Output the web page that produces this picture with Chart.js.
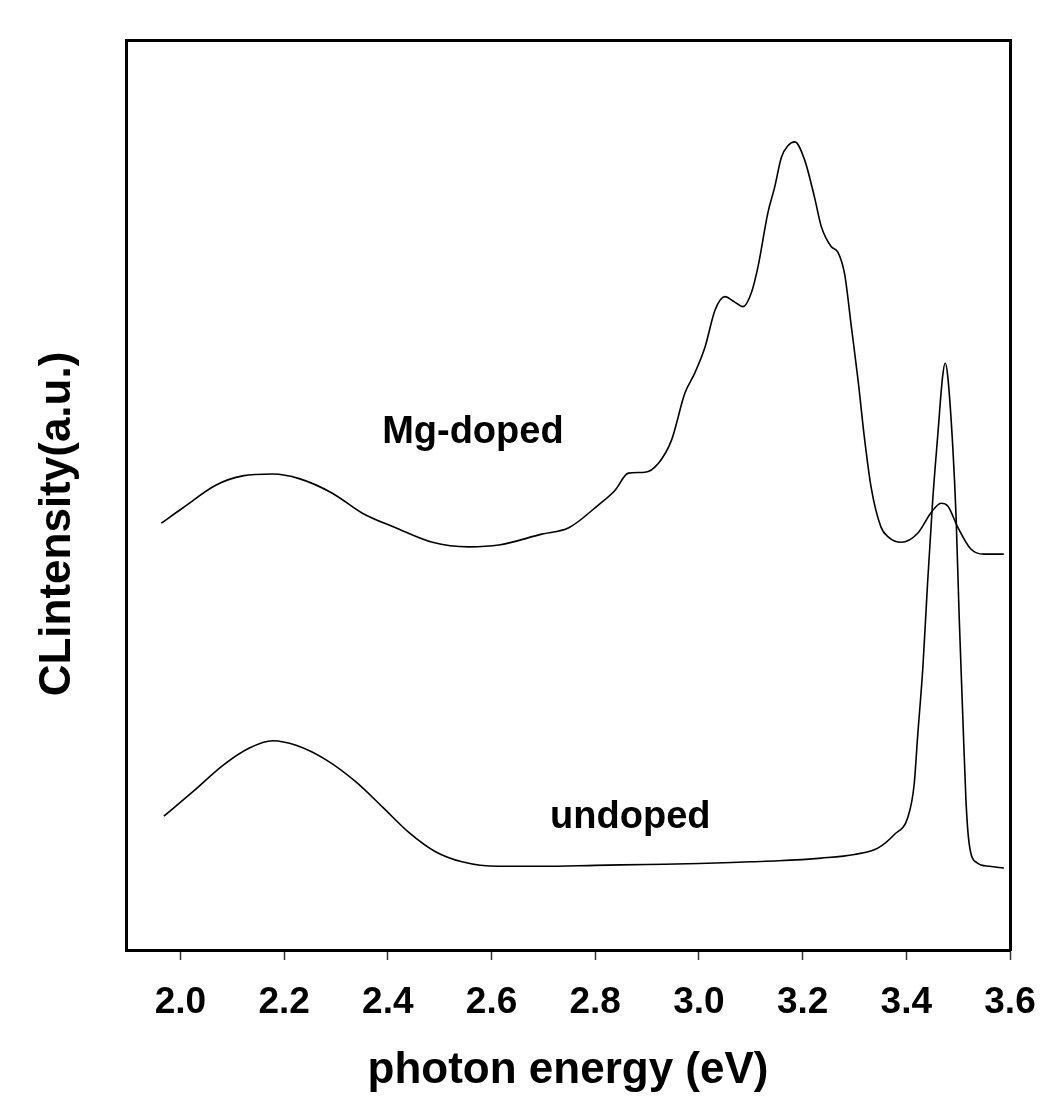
<!DOCTYPE html>
<html>
<head>
<meta charset="utf-8">
<script src="https://cdn.jsdelivr.net/npm/chart.js@4.4.1/dist/chart.umd.min.js"></script>
<style>
html, body { margin: 0; padding: 0; background: #fff; }
#wrap { width: 1050px; height: 1097px; }
</style>
</head>
<body>
<div id="wrap"><canvas id="cl" width="1050" height="1097"></canvas></div>
<script>
// photon energy (eV) / CL intensity (a.u., 0-100)
var mgEnergy = [1.963, 2.005, 2.069, 2.120, 2.178, 2.229, 2.293, 2.351, 2.415, 2.486, 2.556, 2.614, 2.697, 2.749,
	2.806, 2.838, 2.864, 2.896, 2.922, 2.947, 2.973, 2.992, 3.012, 3.031, 3.050, 3.069, 3.085, 3.101, 3.114, 3.133,
	3.146, 3.159, 3.172, 3.185, 3.204, 3.223, 3.236, 3.255, 3.268, 3.281, 3.294, 3.307, 3.319, 3.332, 3.351, 3.365,
	3.390, 3.422, 3.447, 3.467, 3.480, 3.499, 3.524, 3.550, 3.588];
var mgIntensity = [46.9, 48.6, 51.1, 52.1, 52.3, 51.8, 50.2, 48.0, 46.4, 44.8, 44.3, 44.5, 45.7, 46.4,
	48.9, 50.5, 52.4, 52.5, 53.5, 56.0, 61.2, 63.4, 66.3, 70.3, 71.8, 71.2, 70.7, 72.2, 75.1, 81.0,
	83.8, 87.1, 88.4, 88.8, 86.8, 82.7, 79.5, 77.3, 76.7, 74.3, 68.5, 62.6, 56.4, 50.9, 46.5, 45.4,
	44.8, 45.8, 48.0, 49.1, 48.8, 46.5, 44.1, 43.5, 43.5];

var undopedEnergy = [1.968, 2.024, 2.082, 2.133, 2.178, 2.223, 2.281, 2.338, 2.390, 2.441, 2.492, 2.543,
	2.614, 2.700, 2.800, 2.900, 3.000, 3.100, 3.153, 3.236, 3.300, 3.345, 3.377, 3.403,
	3.415, 3.422, 3.432, 3.441, 3.451, 3.461, 3.470, 3.475, 3.480, 3.490, 3.496, 3.502,
	3.509, 3.515, 3.521, 3.536, 3.560, 3.588];
var undopedIntensity = [14.7, 17.4, 20.3, 22.2, 23.0, 22.5, 20.9, 18.5, 15.7, 12.9, 10.8, 9.7,
	9.2, 9.2, 9.3, 9.4, 9.5, 9.7, 9.8, 10.1, 10.5, 11.2, 12.7, 14.6,
	18.1, 23.6, 31.1, 40.3, 49.5, 56.8, 63.0, 64.5, 63.0, 54.9, 47.6, 36.6,
	25.6, 16.5, 11.8, 9.6, 9.2, 9.0];

var xTicks = [2.0, 2.2, 2.4, 2.6, 2.8, 3.0, 3.2, 3.4, 3.6];
var seriesNames = ['Mg-doped', 'undoped'];
var nameAnchors = [[2.389, 55.7], [2.713, 13.4]]; // left edge / baseline of each curve name, data units
var xTitle = 'photon energy (eV)';
var yTitle = 'CLintensity(a.u.)';

var fam = '"Liberation Sans", Arial, Helvetica, sans-serif';
Chart.defaults.font.family = fam;

function pairs(xs, ys) {
	return xs.map(function (x, i) { return {x: x, y: ys[i]}; });
}

function curve(name, xs, ys) {
	return {
		label: name,
		data: pairs(xs, ys),
		borderColor: '#000',
		borderWidth: 1.6,
		pointRadius: 0,
		fill: false,
		cubicInterpolationMode: 'monotone'
	};
}

// curve names and the rotated y title
var textPlugin = {
	id: 'curveText',
	afterDraw: function (chart) {
		var ctx = chart.ctx,
			xs = chart.scales.x,
			ys = chart.scales.y;
		ctx.save();
		ctx.fillStyle = '#000';
		ctx.font = 'bold 38px ' + fam;
		ctx.textAlign = 'left';
		ctx.textBaseline = 'alphabetic';
		seriesNames.forEach(function (n, i) {
			ctx.fillText(n, xs.getPixelForValue(nameAnchors[i][0]), ys.getPixelForValue(nameAnchors[i][1]));
		});
		ctx.font = 'bold 44px ' + fam;
		ctx.textAlign = 'center';
		ctx.translate(70, 524);
		ctx.rotate(-Math.PI / 2);
		ctx.fillText(yTitle, 0, 0);
		ctx.restore();
	}
};

function frameAxis(pos, size) {
	return {
		type: 'linear',
		position: pos,
		display: true,
		ticks: {display: false},
		grid: {display: false, drawTicks: false},
		border: {display: true, color: '#000', width: 3},
		afterFit: function (s) {
			if (pos === 'top') s.height = size; else s.width = size;
		}
	};
}

new Chart(document.getElementById('cl'), {
	type: 'line',
	data: {
		datasets: [
			curve(seriesNames[0], mgEnergy, mgIntensity),
			curve(seriesNames[1], undopedEnergy, undopedIntensity)
		]
	},
	options: {
		responsive: false,
		animation: false,
		devicePixelRatio: 1,
		layout: {padding: 0},
		plugins: {legend: {display: false}, tooltip: {enabled: false}},
		scales: {
			x: {
				type: 'linear',
				position: 'bottom',
				min: 1.895,
				max: 3.6,
				afterBuildTicks: function (s) {
					s.ticks = xTicks.map(function (v) { return {value: v}; });
				},
				ticks: {
					color: '#000',
					// tall line box pushes the labels down without widening the right padding
					font: {size: 37, weight: 'bold', lineHeight: 2.3},
					padding: 0,
					maxRotation: 0,
					autoSkip: false,
					callback: function (v) { return Number(v).toFixed(1); }
				},
				grid: {display: true, drawOnChartArea: false, drawTicks: true, tickLength: 10, tickColor: '#333', tickWidth: 1.5},
				border: {display: true, color: '#000', width: 3},
				title: {
					display: true,
					text: xTitle,
					color: '#000',
					font: {size: 44, weight: 'bold', lineHeight: 1},
					padding: {top: 0, bottom: 4}
				},
				afterFit: function (s) { s.height = 147; }
			},
			y: {
				type: 'linear',
				position: 'left',
				min: 0,
				max: 100,
				ticks: {display: false},
				grid: {display: false, drawTicks: false},
				border: {display: true, color: '#000', width: 3},
				afterFit: function (s) { s.width = 126; }
			},
			x2: frameAxis('top', 40),
			y2: frameAxis('right', 40)
		}
	},
	plugins: [textPlugin]
});
</script>
</body>
</html>
